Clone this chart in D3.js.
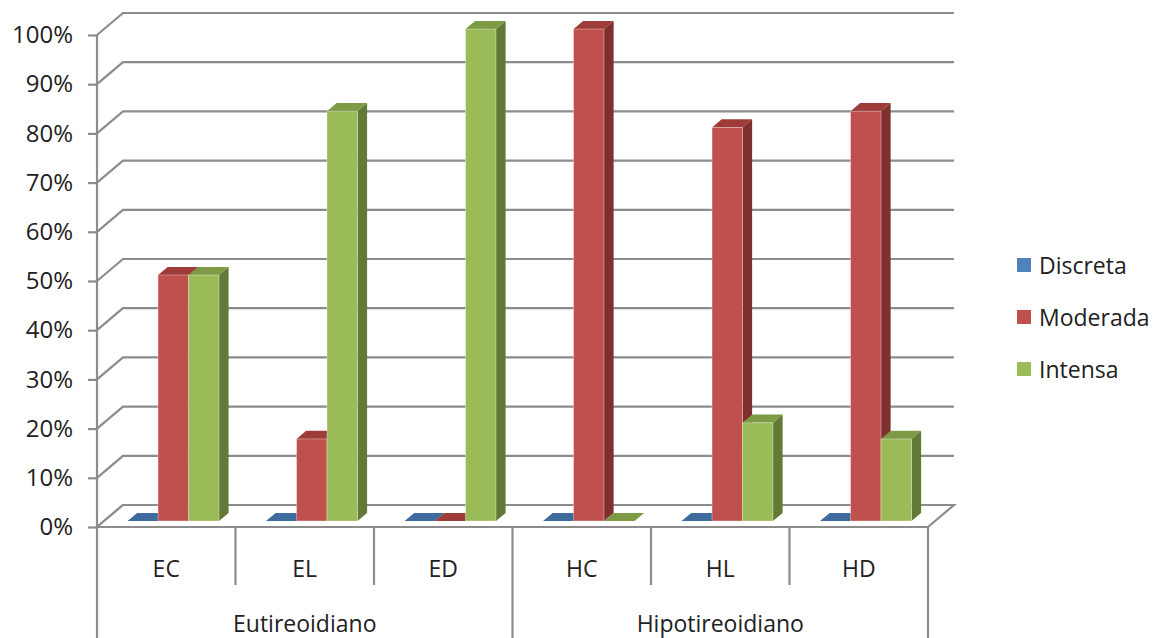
<!DOCTYPE html>
<html>
<head>
<meta charset="utf-8">
<script src="https://cdn.jsdelivr.net/npm/d3@7"></script>
<style>
  html, body { margin: 0; padding: 0; background: #fff; }
  svg { display: block; }
  text { font-family: "Open Sans", "Noto Sans", sans-serif; fill: #222; }
</style>
</head>
<body>
<svg id="chart" width="1162" height="638"></svg>
<script>
// Category labels, their groups and the three series (share of cases)
const categories = ["EC", "EL", "ED", "HC", "HL", "HD"];
const groups = ["Eutireoidiano", "Hipotireoidiano"];
const groupOf = ["Eutireoidiano", "Eutireoidiano", "Eutireoidiano",
                 "Hipotireoidiano", "Hipotireoidiano", "Hipotireoidiano"];
const seriesNames = ["Discreta", "Moderada", "Intensa"];
const discreta = [0, 0, 0, 0, 0, 0];
const moderada = [0.50, 0.167, 0, 1.00, 0.80, 0.833];
const intensa  = [0.50, 0.833, 1.00, 0, 0.20, 0.167];
const yTicks = [0, 0.1, 0.2, 0.3, 0.4, 0.5, 0.6, 0.7, 0.8, 0.9, 1.0];

const seriesValues = [discreta, moderada, intensa];
const palette = {
  Discreta: { front: "#4F81BD", side: "#385D8A", top: "#3E6A9E" },
  Moderada: { front: "#C0504D", side: "#7E302E", top: "#9E3C3A" },
  Intensa:  { front: "#9BBB59", side: "#637A37", top: "#7D9A45" }
};

const svg = d3.select("#chart");

// Plot frame (front plane) and 3D depth offset of the walls
const plotLeft = 97, plotRight = 928, plotBottom = 527, plotTop = 35;
const DX = 26, DY = 22;           // full depth offset of the back wall
const d0 = 0.27, d1 = 0.64;       // depth slot occupied by the bars

const y = d3.scaleLinear().domain([0, 1]).range([plotBottom, plotTop]);
const x0 = d3.scaleBand().domain(categories).range([plotLeft, plotRight]).padding(0);
const x1 = d3.scaleBand().domain(seriesNames)
  .range([x0.bandwidth() * 0.17, x0.bandwidth() * 0.83]).padding(0);

// project a front-plane point to a given depth
const P = (x, yy, d) => [x + d * DX, yy - d * DY];
const poly = pts => pts.map(p => p.join(",")).join(" ");

const gridColor = "#8C8C8C";

// Back-wall gridlines with the diagonal return to the value axis
const grid = svg.append("g");
yTicks.forEach(t => {
  const yy = y(t);
  const a = P(plotLeft, yy, 0), b = P(plotLeft, yy, 1), c = P(plotRight, yy, 1);
  grid.append("polyline")
    .attr("points", poly([a, b, c]))
    .attr("fill", "none").attr("stroke", gridColor).attr("stroke-width", 2.2);
});

// Floor
const floorPts = [P(plotLeft, plotBottom, 0), P(plotLeft, plotBottom, 1),
                  P(plotRight, plotBottom, 1), P(plotRight, plotBottom, 0)];
svg.append("polygon")
  .attr("points", poly(floorPts))
  .attr("fill", "#fff").attr("stroke", gridColor).attr("stroke-width", 2.2)
  .attr("stroke-linejoin", "miter");

// Bars: side, top, then front face, drawn left to right
const bars = svg.append("g");
categories.forEach((cat, i) => {
  seriesNames.forEach((s, k) => {
    const v = seriesValues[k][i];
    const col = palette[s];
    const xa = x0(cat) + x1(s), xb = xa + x1.bandwidth();
    const yb = y(0), yt = y(v);
    const fBL = P(xa, yb, d0), fBR = P(xb, yb, d0), fTL = P(xa, yt, d0), fTR = P(xb, yt, d0);
    const bBR = P(xb, yb, d1), bTL = P(xa, yt, d1), bTR = P(xb, yt, d1);
    const g = bars.append("g");
    if (v > 0) {
      g.append("polygon").attr("points", poly([fBR, fTR, bTR, bBR]))
        .attr("fill", col.side);
    }
    g.append("polygon").attr("points", poly([fTL, fTR, bTR, bTL]))
      .attr("fill", col.top);
    if (v > 0) {
      g.append("polygon").attr("points", poly([fBL, fTL, fTR, fBR]))
        .attr("fill", col.front)
        .attr("stroke", "rgba(255,255,255,0.35)").attr("stroke-width", 1);
    }
  });
});

// Value axis
const yAxis = d3.axisLeft(y)
  .tickValues(yTicks)
  .tickFormat(d3.format(".0%"))
  .tickSize(9)
  .tickPadding(15);
const ya = svg.append("g").attr("transform", `translate(${plotLeft},0)`).call(yAxis);
ya.select(".domain").remove();
ya.selectAll(".tick line").attr("stroke", gridColor).attr("stroke-width", 2.2);
ya.selectAll(".tick text")
  .attr("font-size", 24).attr("fill", "#222")
  .style("font-family", '"Open Sans", "Noto Sans", sans-serif');

// Front value-axis line, running down through the category area
svg.append("line").attr("x1", plotLeft).attr("x2", plotLeft).attr("y1", plotTop).attr("y2", 638)
  .attr("stroke", gridColor).attr("stroke-width", 2.2);

// Category dividers: short between categories, full height between groups and at the end
const catAxis = svg.append("g");
const edges = categories.map(c => x0(c)).concat([x0(categories[categories.length - 1]) + x0.bandwidth()]);
edges.forEach((ex, j) => {
  if (j === 0) return;
  const isGroupEdge = j === categories.length || groupOf[j] !== groupOf[j - 1];
  catAxis.append("line")
    .attr("x1", ex).attr("x2", ex)
    .attr("y1", plotBottom).attr("y2", isGroupEdge ? 638 : 585)
    .attr("stroke", gridColor).attr("stroke-width", 2.2);
});
categories.forEach(c => {
  catAxis.append("text")
    .attr("x", x0(c) + x0.bandwidth() / 2).attr("y", 568)
    .attr("text-anchor", "middle").attr("dominant-baseline", "central")
    .attr("font-size", 23).text(c);
});
groups.forEach(gName => {
  const idx = categories.map((c, i) => i).filter(i => groupOf[i] === gName);
  const gx0 = x0(categories[idx[0]]);
  const gx1 = x0(categories[idx[idx.length - 1]]) + x0.bandwidth();
  catAxis.append("text")
    .attr("x", (gx0 + gx1) / 2).attr("y", 623)
    .attr("text-anchor", "middle").attr("dominant-baseline", "central")
    .attr("font-size", 23).text(gName);
});

// Legend
const legendY = d3.scalePoint().domain(seriesNames).range([265, 369]);
const legend = svg.append("g");
seriesNames.forEach(s => {
  legend.append("rect")
    .attr("x", 1017).attr("y", legendY(s) - 7)
    .attr("width", 14).attr("height", 14)
    .attr("fill", palette[s].front);
  legend.append("text")
    .attr("x", 1039).attr("y", legendY(s))
    .attr("dominant-baseline", "central")
    .attr("font-size", 23).text(s);
});
</script>
</body>
</html>
